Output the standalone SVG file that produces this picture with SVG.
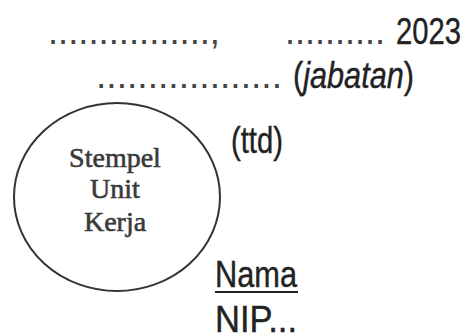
<svg xmlns="http://www.w3.org/2000/svg" width="468" height="334" viewBox="0 0 468 334">
<style>
.s{font-family:"Liberation Sans Narrow","Liberation Sans",Arial,sans-serif;fill:#222;stroke:#222;stroke-width:0.4px;font-size:37px}
.d{font-family:"Liberation Sans","Arial",sans-serif;fill:#444;font-size:36px}
.t{font-family:"Liberation Serif","Times New Roman",serif;fill:#3a3a3a;stroke:#3a3a3a;stroke-width:0.6px;font-size:28px;text-anchor:middle}
</style>
<rect width="468" height="334" fill="#fff"/>
<g id="header">
<text class="d" x="48" y="44" textLength="172" lengthAdjust="spacingAndGlyphs">................,</text>
<text class="d" x="285" y="44" textLength="100" lengthAdjust="spacingAndGlyphs">..........</text>
<text class="s" x="396" y="44" textLength="65" lengthAdjust="spacingAndGlyphs">2023</text>
<text class="d" x="96" y="88" textLength="186" lengthAdjust="spacingAndGlyphs">..................</text>
<text class="s" x="293" y="88" textLength="121" lengthAdjust="spacingAndGlyphs">(<tspan font-style="italic">jabatan</tspan>)</text>
</g>
<g id="stempel">
<ellipse cx="117" cy="197" rx="103" ry="94" fill="none" stroke="#333" stroke-width="2"/>
<text class="t" x="115" y="167">Stempel</text>
<text class="t" x="115" y="198">Unit</text>
<text class="t" x="115" y="231">Kerja</text>
</g>
<g id="ttd">
<text class="s" x="231" y="153" textLength="52" lengthAdjust="spacingAndGlyphs">(ttd)</text>
</g>
<g id="nama">
<text class="s" x="215" y="287" textLength="82" lengthAdjust="spacingAndGlyphs">Nama</text>
<line x1="215" y1="292" x2="298" y2="292" stroke="#222" stroke-width="2"/>
<text class="s" x="215" y="332" textLength="82" lengthAdjust="spacingAndGlyphs">NIP...</text>
</g>
</svg>
